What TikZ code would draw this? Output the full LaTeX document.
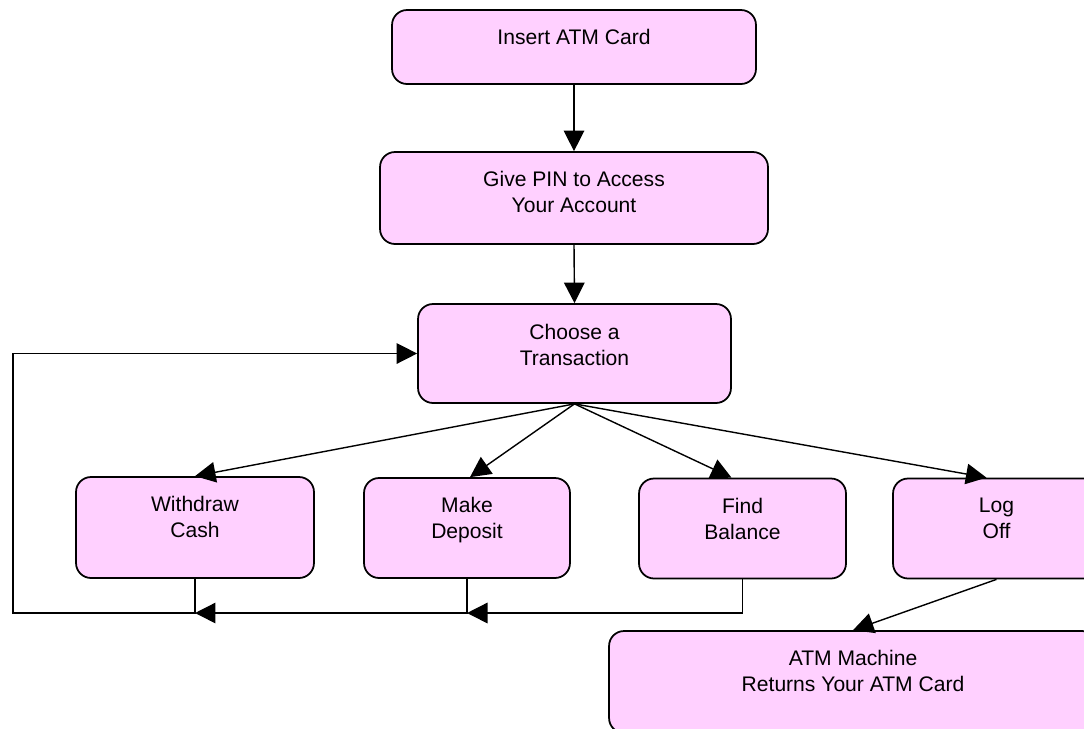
\documentclass[tikz,border=0pt]{standalone}
\usepackage{fontspec}
\setmainfont{Liberation Sans}
\usetikzlibrary{positioning,arrows.meta}
\definecolor{boxpink}{RGB}{255,208,255}

\begin{document}
\begin{tikzpicture}[x=0.02cm,y=-0.02cm,
    atmbox/.style={draw,fill=boxpink,rounded corners=0.3cm,line width=1pt},
    atmtext/.style={align=center,inner sep=0pt,font=\fontsize{12}{14.8}\selectfont},
    flow/.style={-{Triangle[length=0.41cm,width=0.41cm]},line width=0.8pt}]
    \useasboundingbox (0,0) rectangle (1084,728);
    \clip (0,0) rectangle (1084,728);

    % main line
    \node[atmbox,minimum width=7.28cm,minimum height=1.48cm] (card) at (574,47) {};
    \node[atmtext,below=0.4cm of card.north] (card-t) {Insert ATM Card};
    \node[atmbox,minimum width=7.76cm,minimum height=1.84cm] (pin) at (574,198) {};
    \node[atmtext,below=0.4cm of pin.north] (pin-t) {Give PIN to Access\\Your Account};
    \node[atmbox,minimum width=6.26cm,minimum height=1.98cm] (choose) at (574.5,353.5) {};
    \node[atmtext,below=0.42cm of choose.north] (choose-t) {Choose a\\Transaction};

    % transactions
    \node[atmbox,minimum width=4.76cm,minimum height=2.02cm] (cash) at (195,527.5) {};
    \node[atmtext,below=0.4cm of cash.north] (cash-t) {Withdraw\\Cash};
    \node[atmbox,minimum width=4.12cm,minimum height=2cm] (deposit) at (467,528) {};
    \node[atmtext,below=0.4cm of deposit.north] (deposit-t) {Make\\Deposit};
    \node[atmbox,minimum width=4.14cm,minimum height=2cm] (balance) at (742.5,528.5) {};
    \node[atmtext,below=0.4cm of balance.north] (balance-t) {Find\\Balance};
    \node[atmbox,minimum width=4.14cm,minimum height=2cm] (logoff) at (996.5,528.5) {};
    \node[atmtext,below=0.4cm of logoff.north] (logoff-t) {Log\\Off};
    \node[atmbox,minimum width=9.76cm,minimum height=2.04cm] (eject) at (853,682) {};
    \node[atmtext,below=0.4cm of eject.north] (eject-t) {ATM Machine\\Returns Your ATM Card};

    \draw[flow] (card.south) -- (pin.north);
    \draw[flow] (pin.south) -- (choose.north);
    \draw[flow] (choose.south) -- (cash.north);
    \draw[flow] (choose.south) -- ([xshift=0.06cm]deposit.north);
    \draw[flow] (choose.south) -- ([xshift=-0.22cm]balance.north);
    \draw[flow] (choose.south) -- ([xshift=-0.2cm]logoff.north);
    \draw[flow] (logoff.south) -- (eject.north);

    % back to the menu
    \coordinate (corner) at (13,613);
    \draw[flow] (balance.south) |- (deposit.south |- corner);
    \draw[flow] (deposit.south) |- (cash.south |- corner);
    \draw[flow] (cash.south) |- (corner) |- (choose.west);
\end{tikzpicture}
\end{document}
